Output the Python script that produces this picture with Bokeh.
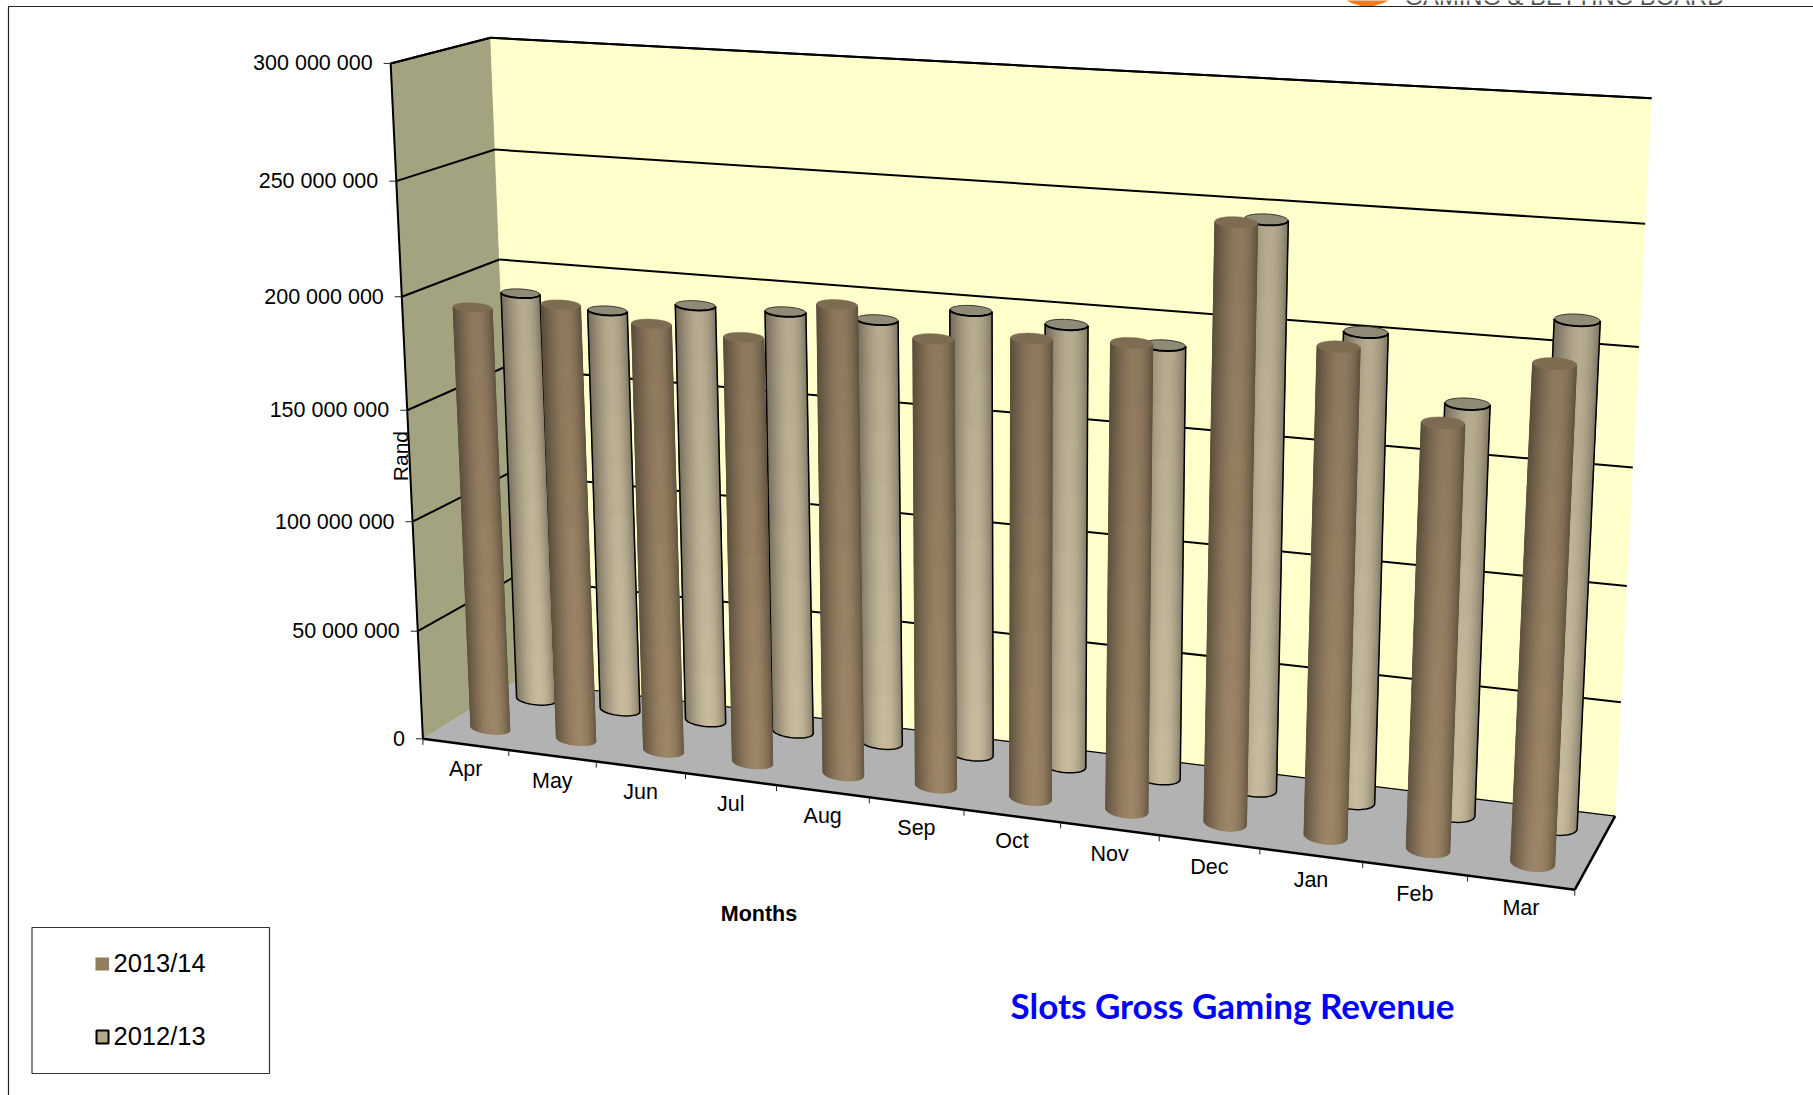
import numpy as np
from bokeh.plotting import figure
from bokeh.models import Range1d
from bokeh.core.properties import value
from bokeh.embed import file_html
from bokeh.resources import INLINE

# ---------- data ----------
months = ["Apr", "May", "Jun", "Jul", "Aug", "Sep", "Oct", "Nov", "Dec", "Jan", "Feb", "Mar"]
rev_2013_14 = [192.4e6, 196.8e6, 191.6e6, 189.1e6, 206.3e6, 195.1e6, 198.6e6, 200.1e6, 252.1e6, 205.3e6, 178.1e6, 205.3e6]
rev_2012_13 = [190e6, 185.4e6, 190.9e6, 191.3e6, 191e6, 198.2e6, 195.4e6, 189.9e6, 245.6e6, 202.1e6, 175.8e6, 213.6e6]
y_ticks = [0, 50000000, 100000000, 150000000, 200000000, 250000000, 300000000]
series_names = ["2013/14", "2012/13"]
title = "Slots Gross Gaming Revenue"
x_title = "Months"
y_title = "Rand"
letterhead = "GAMING & BETTING BOARD"

# ---------- camera: a perspective view of the chart box, fitted to the box edges ----------
K = 1813 / 1568
VMAX = 300e6
calib = [  # (month pos, depth, value, screen x, screen y)
    (0, 0, 0, 366, 637), (12, 0, 0, 1362, 770), (0, 1, 0, 445, 590), (12, 1, 0, 1397, 703),
    (0, 0, 300, 337, 54), (0, 1, 300, 424, 32), (12, 1, 300, 1428, 85),
    (0, 1, 250, 428, 129), (0, 1, 200, 431.6, 224),
    (12, 1, 250, 1422, 193), (12, 1, 200, 1417, 300), (12, 1, 150, 1412, 404),
    (1, 0, 0, 440.6, 648), (3, 0, 0, 592, 668), (5, 0, 0, 751, 690), (9, 0, 0, 1088.8, 734), (10, 0, 0, 1177.7, 745),
    (11, 0, 0, 1268.7, 757),
]
A = []
for u, d, v, sx, sy in calib:
    X = [u / 12, d, v / 300, 1]
    x, y = sx * K / 1000, sy * K / 1000
    A.append(X + [0, 0, 0, 0] + [-x * c for c in X])
    A.append([0, 0, 0, 0] + X + [-y * c for c in X])
P = np.linalg.svd(np.array(A))[2][-1].reshape(3, 4)


def proj(u, d, v):
    s = P @ np.array([u / 12, d, v / VMAX, 1.0])
    return float(1000 * s[0] / s[2]), float(1000 * s[1] / s[2])


def segment(p, a, b, **kw):
    xa, ya = proj(*a)
    xb, yb = proj(*b)
    p.line([xa, xb], [ya, yb], **kw)


def face(p, corners, color):
    xs, ys = zip(*[proj(*c) for c in corners])
    p.patch(list(xs), list(ys), fill_color=color, line_color=color, line_width=0.5)


p = figure(width=1813, height=1095, x_range=Range1d(0, 1813), y_range=Range1d(1095, 0),
           output_backend="svg", toolbar_location=None, min_border=0)
p.axis.visible = False
p.grid.visible = False
p.outline_line_color = None
p.background_fill_color = "white"

# letterhead remains at the top of the page
p.circle([1367], [-32], radius=38, fill_color="#f47b20", line_color=None)
p.text([1404], [-4], text=[letterhead], text_font=value("Liberation Sans"), text_font_size="23.8px",
       text_color="#555555", text_baseline="alphabetic")
p.line([8, 8, 1813], [1095, 6, 6], line_color="#222222", line_width=1.2)

# chart box
top = VMAX
face(p, [(0, 0, 0), (0, 1, 0), (0, 1, top), (0, 0, top)], "#a3a380")
face(p, [(0, 1, 0), (12, 1, 0), (12, 1, top), (0, 1, top)], "#ffffcc")
face(p, [(0, 0, 0), (12, 0, 0), (12, 1, 0), (0, 1, 0)], "#b2b2b2")
segment(p, (0, 1, 0), (12, 1, 0), line_color="black", line_width=1.2)
for t in y_ticks[1:]:
    segment(p, (0, 0, t), (0, 1, t), line_color="black", line_width=2)
    segment(p, (0, 1, t), (12, 1, t), line_color="black", line_width=2)


def shade(rgb, s, z):
    f = 0.66 + 0.38 * np.sin(np.pi * np.clip(s, 0, 1) ** 1.25) ** 0.8
    g = 1.04 - 0.10 * z
    return "#%02x%02x%02x" % tuple(int(min(255, c * f * g)) for c in rgb)


def cylinders(values, depth, rgb, cap, outline, w0, w1):
    n_strips, n_rows = 24, 8
    ang = np.linspace(0, np.pi, n_strips + 1)           # front half, right to left
    full = np.linspace(0, 2 * np.pi, 61)
    for i, val in enumerate(values):
        grow = i / 11
        w = w0 + (w1 - w0) * grow
        hb, ht = 5.5 + 3 * grow, 4.5 + 1.5 * grow
        bx0, by0 = proj(i + 0.5, depth, 0)
        tx0, ty0 = proj(i + 0.5, depth, val)

        def ring(t, cx, cy, h, tilt):
            return cx + w * np.cos(t), cy + h * np.sin(t) + tilt * w * np.cos(t)

        bx, by = ring(ang, bx0, by0, hb, 0.1)
        tx, ty = ring(ang, tx0, ty0, ht, 0.05)
        # underlay to hide strip seams
        p.patch(bx.tolist() + tx[::-1].tolist(), by.tolist() + ty[::-1].tolist(),
                fill_color=shade(rgb, 0.5, 0.5), line_color=None)
        fx, fy, col = [], [], []
        for k in range(n_strips):
            s = 0.5 + 0.5 * np.cos(np.pi * (k + 0.5) / n_strips)
            for r in range(n_rows):
                z0, z1 = r / n_rows, (r + 1) / n_rows
                x0a, y0a = bx[k] + (tx[k] - bx[k]) * z0, by[k] + (ty[k] - by[k]) * z0
                x0b, y0b = bx[k + 1] + (tx[k + 1] - bx[k + 1]) * z0, by[k + 1] + (ty[k + 1] - by[k + 1]) * z0
                x1a, y1a = bx[k] + (tx[k] - bx[k]) * z1, by[k] + (ty[k] - by[k]) * z1
                x1b, y1b = bx[k + 1] + (tx[k + 1] - bx[k + 1]) * z1, by[k + 1] + (ty[k + 1] - by[k + 1]) * z1
                fx.append([x0a, x0b, x1b, x1a])
                fy.append([y0a, y0b, y1b, y1a])
                col.append(shade(rgb, s, (z0 + z1) / 2))
        p.patches(fx, fy, fill_color=col, line_color=col, line_width=0.7)
        cx, cy = ring(full, tx0, ty0, ht, 0.05)
        p.patch(cx.tolist(), cy.tolist(), fill_color=cap, line_color="#333333" if outline else cap,
                line_width=1 if outline else 0.5)
        if outline:
            p.line([tx[0]] + bx.tolist() + [tx[-1]], [ty[0]] + by.tolist() + [ty[-1]],
                   line_color="black", line_width=1.5)
            p.line(tx.tolist(), ty.tolist(), line_color="black", line_width=2)


cylinders(rev_2012_13, 0.76, (186, 174, 146), "#8f8b77", True, 19.5, 23)
cylinders(rev_2013_14, 0.26, (146, 125, 96), "#7e6c52", False, 19.5, 22)

# axes drawn along the projected box edges
segment(p, (0, 0, 0), (12, 0, 0), line_color="black", line_width=2.5)
segment(p, (12, 0, 0), (12, 1, 0), line_color="black", line_width=2.5)
segment(p, (0, 0, 0), (0, 0, top), line_color="black", line_width=2)
segment(p, (0, 0, top), (0, 1, top), line_color="black", line_width=2)
segment(p, (0, 1, top), (12, 1, top), line_color="black", line_width=2)

FONT = value("Liberation Sans")
for t in y_ticks:
    x0, y0 = proj(0, 0, t)
    p.line([x0 - 7, x0], [y0, y0], line_color="#222222", line_width=1)
    p.text([x0 - 18], [y0], text=[f"{t:,}".replace(",", " ")], text_font=FONT, text_font_size="21.5px",
           text_align="right", text_baseline="middle", text_color="black")
for i in range(13):
    x0, y0 = proj(i, 0, 0)
    p.line([x0, x0], [y0, y0 + 6], line_color="#222222", line_width=1)
for i, m in enumerate(months):
    x0, y0 = proj(i + 0.5, 0, 0)
    p.text([x0], [y0 + 25], text=[m], text_font=FONT, text_font_size="21.5px", text_align="center",
           text_baseline="middle", text_color="black")

p.text([656 * K], [790 * K], text=[x_title], text_font=FONT, text_font_size="21.5px", text_font_style="bold",
       text_align="center", text_baseline="middle", text_color="black")
p.text([346 * K], [394 * K], text=[y_title], angle=np.pi / 2, text_font=FONT, text_font_size="21px",
       text_align="center", text_baseline="middle", text_color="black")
p.text([1065.5 * K], [869 * K], text=[title], text_font=value("Lato"), text_font_size="35px", text_font_style="bold",
       text_align="center", text_baseline="middle", text_color="#0000ff")

# legend
p.quad(left=[31.5], right=[269], top=[927], bottom=[1073], fill_color="white", line_color="#333333", line_width=1.2)
p.quad(left=[95], right=[108.5], top=[957], bottom=[970], fill_color="#927d60", line_color=None)
p.quad(left=[96], right=[108], top=[1030], bottom=[1043], fill_color="#b5a98c", line_color="black", line_width=2)
p.text([113, 113], [962, 1035.5], text=series_names, text_font=FONT, text_font_size="25.5px",
       text_baseline="middle", text_color="black")

open("out.html", "w").write(file_html(p, INLINE))
